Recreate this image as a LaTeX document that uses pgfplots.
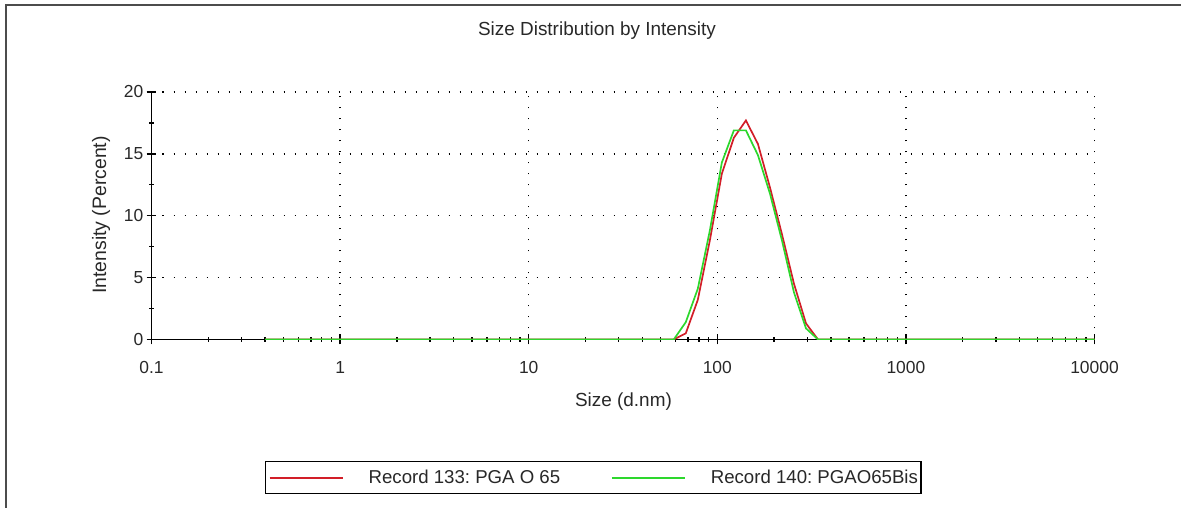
\documentclass[border=0pt]{standalone}
\usepackage{fontspec}
\setmainfont{Liberation Sans}
\usepackage{pgfplots}
\pgfplotsset{compat=1.18}
\definecolor{recred}{RGB}{210,30,40}
\definecolor{recgreen}{RGB}{45,215,45}
\definecolor{txt}{RGB}{40,40,40}

\begin{document}
\begin{tikzpicture}[x=1bp,y=1bp]
\useasboundingbox (0,0) rectangle (1181,508);
\draw[line width=2bp, black!70] (6,0) -- (6,503) -- (1181,503);
\begin{axis}[
  at={(151.5bp,168.5bp)}, anchor=south west,
  scale only axis, width=943bp, height=247.5bp,
  xmode=log, xmin=0.1, xmax=10000, ymin=0, ymax=20,
  axis x line*=bottom, axis y line*=left,
  axis line style={black, line width=1.6bp},
  xtick={0.1,1,10,100,1000,10000},
  xticklabels={0.1,1,10,100,1000,10000},
  minor xtick={0.2,0.3,0.4,0.5,0.6,0.7,0.8,0.9,2,3,4,5,6,7,8,9,20,30,40,50,60,70,80,90,200,300,400,500,600,700,800,900,2000,3000,4000,5000,6000,7000,8000,9000},
  ytick={0,5,10,15,20},
  minor ytick={2.5,7.5,12.5,17.5},
  tick align=center,
  major tick length=10bp, minor tick length=5bp,
  every tick/.style={black, line width=1.3bp},
  xmajorgrids, ymajorgrids,
  major grid style={black, line width=1.4bp, dash pattern=on 1.4bp off 9.6bp},
  /pgf/number format/assume math mode=true,
  tick label style={font=\fontsize{17.5}{20}\selectfont, text=txt},
  xticklabel style={anchor=base, yshift=-29bp},
  yticklabel style={anchor=east, inner sep=0pt, xshift=-3bp},
  title={Size Distribution by Intensity},
  title style={at={(0.4724,1)}, anchor=center, yshift=55.3bp, font=\fontsize{19}{22}\selectfont, text=txt},
  xlabel={Size (d.nm)},
  xlabel style={at={(0.5005,0)}, anchor=center, yshift=-62.2bp, font=\fontsize{19}{22}\selectfont, text=txt},
  ylabel={Intensity (Percent)},
  ylabel style={at={(axis description cs:-0.05355,0.503)}, anchor=center, font=\fontsize{19.5}{22}\selectfont, text=txt},
  legend columns=2,
  legend cell align=left,
  legend image code/.code={\draw[#1] (0bp,0bp) -- (73bp,0bp);},
  legend style={at={(0.12036,-0.5576)}, anchor=west, draw=black, line width=1.3bp,
    inner xsep=3bp, inner ysep=8.5bp,
    font=\fontsize{18.7}{22}\selectfont, text=txt,
    nodes={inner sep=0pt},
    /tikz/every odd column/.append style={column sep=25bp},
    /tikz/every even column/.append style={column sep=50.6bp}},
]
\addlegendimage{recred, line width=2bp}
\addlegendimage{recgreen, line width=2bp}
\addplot[recred, line width=1.7bp, forget plot] coordinates {
  (0.4,0) (58.77,0) (68.06,0.5) (78.82,3.2) (91.28,8.0) (105.7,13.4)
  (122.4,16.3) (141.8,17.7) (164.2,15.8) (190.1,12.3) (220.2,8.5)
  (255.0,4.5) (295.3,1.3) (342.0,0) (10000,0)};
\addplot[recgreen, line width=1.7bp, forget plot] coordinates {
  (0.4,0) (58.77,0) (68.06,1.4) (78.82,4.1) (91.28,8.8) (105.7,14.3)
  (122.4,16.9) (141.8,16.9) (164.2,14.9) (190.1,11.8) (220.2,8.0)
  (255.0,3.8) (295.3,0.9) (342.0,0) (10000,0)};
\legend{Record 133:\ PGA O 65, Record 140:\ PGAO65Bis}
\end{axis}
\end{tikzpicture}
\end{document}
